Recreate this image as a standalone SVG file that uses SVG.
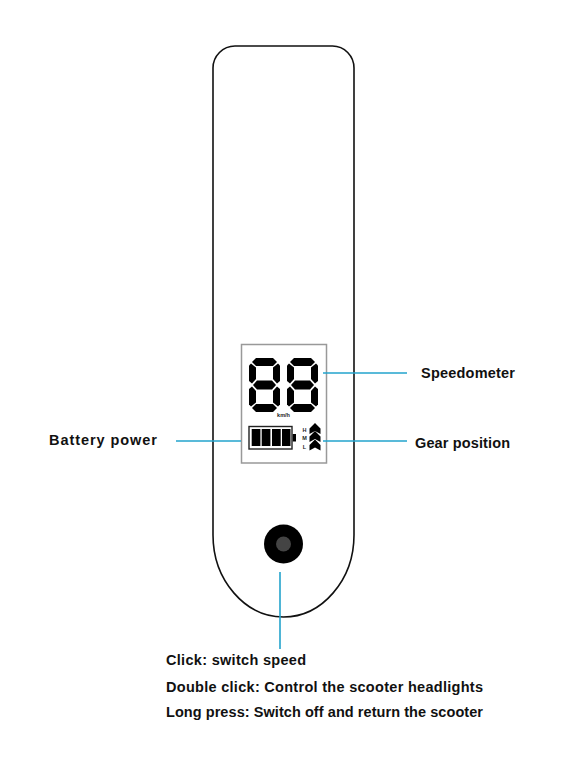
<svg xmlns="http://www.w3.org/2000/svg" width="588" height="765" viewBox="0 0 588 765">
<style>
.l{font-family:"Liberation Sans",Arial,sans-serif;font-weight:bold;font-size:14.500px;fill:#111}
.s{font-family:"Liberation Sans",Arial,sans-serif;font-weight:bold;font-size:5.500px;fill:#222}
.c{stroke:#22a3cc;stroke-width:1.600;fill:none}
</style>
<defs>
<g id="digit" fill="#000">
<polygon points="7,0 24,0 28,4 24,8 7,8 3,4"/>
<polygon points="2,5.500 7,9.500 7,21 3,25.500 0,23 0,7.500"/>
<polygon points="29,5.500 31,7.500 31,23 28,25.500 24,21 24,9.500"/>
<polygon points="8,22.500 23,22.500 27,27 23,31.500 8,31.500 4,27"/>
<polygon points="3,28.500 7,33 7,44.500 2,48.500 0,46.500 0,31"/>
<polygon points="28,28.500 31,31 31,46.500 29,48.500 24,44.500 24,33"/>
<polygon points="7,46 24,46 28,50 24,54 7,54 3,50"/>
</g>
<polygon id="chev" points="315,0 320.500,5.500 320.500,11 315,8 309.500,11 309.500,5.500"/>
</defs>
<rect width="588" height="765" fill="#fff"/>
<g id="body">
<path d="M235 46H332.500A21.500 22 0 0 1 354 68V535C354 580 322 617 283.500 617C245 617 213 580 213 535V68A22 22 0 0 1 235 46Z" fill="none" stroke="#111" stroke-width="1.600"/>
</g>
<g id="display">
<rect x="241.500" y="344.500" width="85" height="118.500" fill="#fff" stroke="#999" stroke-width="1.500"/>
<use href="#digit" x="249" y="358"/>
<use href="#digit" x="287" y="358"/>
<text class="s" x="283.500" y="417" text-anchor="middle">km/h</text>
</g>
<g id="battery">
<rect x="249" y="426.500" width="43" height="22.500" fill="#fff" stroke="#222" stroke-width="1.400"/>
<rect x="251.700" y="429" width="8.700" height="17" fill="#000"/>
<rect x="261.700" y="429" width="8.700" height="17" fill="#000"/>
<rect x="272" y="429" width="8.700" height="17" fill="#000"/>
<rect x="282" y="429" width="8.500" height="17" fill="#000"/>
<rect x="292.700" y="434" width="3.300" height="7.500" fill="#000"/>
</g>
<g id="gear">
<use href="#chev" y="423"/>
<use href="#chev" y="431"/>
<use href="#chev" y="439.500"/>
<text class="s" x="304.500" y="431.500" text-anchor="middle">H</text>
<text class="s" x="304.500" y="440" text-anchor="middle">M</text>
<text class="s" x="304.500" y="448.500" text-anchor="middle">L</text>
</g>
<g id="button">
<circle cx="283.500" cy="544" r="19.500" fill="#000"/>
<circle cx="283.500" cy="544" r="7.500" fill="#444"/>
</g>
<g id="connectors">
<line class="c" x1="323" y1="373" x2="407" y2="373"/>
<line class="c" x1="323" y1="441" x2="407" y2="441"/>
<line class="c" x1="176" y1="441" x2="241" y2="441"/>
<line class="c" x1="280" y1="572" x2="280" y2="649"/>
</g>
<g id="labels">
<text class="l" x="421" y="378" textLength="94">Speedometer</text>
<text class="l" x="415" y="448" textLength="95">Gear position</text>
<text class="l" x="49" y="444.500" textLength="108">Battery power</text>
<text class="l" x="166" y="665" textLength="140">Click: switch speed</text>
<text class="l" x="166" y="691.500" textLength="317">Double click: Control the scooter headlights</text>
<text class="l" x="166" y="717" textLength="317">Long press: Switch off and return the scooter</text>
</g>
</svg>
